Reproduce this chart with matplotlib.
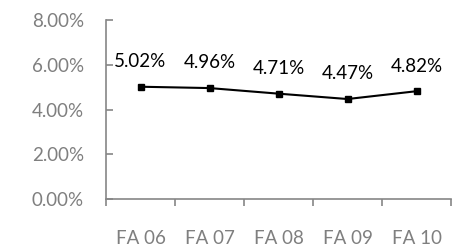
import matplotlib.pyplot as plt
import matplotlib.ticker as mtick
import numpy as np

categories = ['FA 06', 'FA 07', 'FA 08', 'FA 09', 'FA 10']
rates = [5.02, 4.96, 4.71, 4.47, 4.82]
y_ticks = [0, 2, 4, 6, 8]

grey = '#868686'
label_grey = '#7f7f7f'

plt.rcParams['font.family'] = ['Lato', 'DejaVu Sans']

fig = plt.figure(figsize=(4.68, 2.48), dpi=100)
ax = fig.add_axes([0.2265, 0.1976, 0.7372, 0.7214])

x = np.arange(len(categories))
ax.plot(x, rates, color='black', linewidth=1.5, marker='s', markersize=5)

for xi, r in zip(x, rates):
    ax.annotate(f'{r:.2f}%', (xi, r), xytext=(0, 12), textcoords='offset points',
                ha='center', va='bottom', fontsize=13.5, color='black')

ax.set_xlim(-0.5, len(categories) - 0.5)
ax.set_ylim(0, 8)
ax.set_yticks(y_ticks)
ax.yaxis.set_major_formatter(mtick.FuncFormatter(lambda v, p: f'{v:.2f}%'))
ax.set_xticks(np.arange(-0.5, len(categories)), minor=False)
ax.set_xticklabels([])
ax.set_xticks(x, minor=True)
ax.set_xticklabels(categories, minor=True)

ax.tick_params(axis='x', which='major', direction='out', length=5, color=grey, width=1.2)
ax.tick_params(axis='x', which='minor', length=0, pad=22, labelsize=13.5, labelcolor=label_grey)
ax.tick_params(axis='y', direction='in', length=5, color=grey, width=1.2,
               labelsize=13.5, labelcolor=label_grey, pad=16)

for side in ['top', 'right']:
    ax.spines[side].set_visible(False)
for side in ['left', 'bottom']:
    ax.spines[side].set_color(grey)
    ax.spines[side].set_linewidth(1.2)

fig.savefig('out.png', dpi=100)
